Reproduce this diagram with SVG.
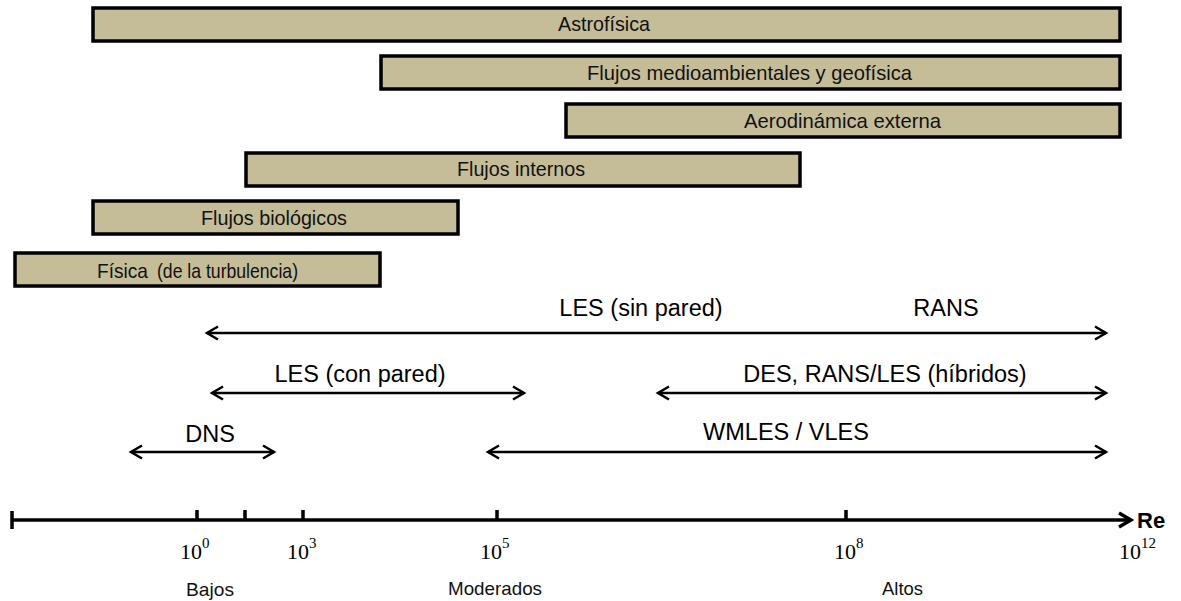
<svg xmlns="http://www.w3.org/2000/svg" width="1181" height="601" viewBox="0 0 1181 601">
<defs>
<style>
.bar{fill:#C4BD97;stroke:#000;stroke-width:3.5}
.bl{font-family:"Liberation Sans",Arial,sans-serif;font-size:21px;fill:#111}
.al{font-family:"Liberation Sans",Arial,sans-serif;font-size:23.5px;fill:#000;text-anchor:middle}
.ar{stroke:#000;stroke-width:2.5;fill:none;marker-start:url(#ah);marker-end:url(#ah)}
.ax{stroke:#000;stroke-width:3.5;fill:none}
.tk{font-family:"Liberation Serif","Times New Roman",serif;font-size:22px;fill:#000}
.sp{font-size:15px}
.cl{font-family:"Liberation Sans",Arial,sans-serif;font-size:19px;fill:#111}
</style>
<marker id="ah" markerUnits="userSpaceOnUse" markerWidth="16" markerHeight="16" viewBox="0 0 16 16" refX="13" refY="8" orient="auto-start-reverse">
<path d="M2,1.5 L13,8 L2,14.5" stroke="#000" stroke-width="2.5" fill="none"/>
</marker>
<marker id="axh" markerUnits="userSpaceOnUse" markerWidth="18" markerHeight="18" viewBox="0 0 18 18" refX="15" refY="9" orient="auto">
<path d="M3,2 L15,9 L3,16" stroke="#000" stroke-width="3.5" fill="none"/>
</marker>
</defs>

<g id="astrofisica">
<rect class="bar" x="93" y="8" width="1027" height="33"/>
<text class="bl" x="558" y="31" textLength="92" lengthAdjust="spacingAndGlyphs">Astrofísica</text>
</g>
<g id="flujos-medioambientales">
<rect class="bar" x="381" y="56" width="739" height="33"/>
<text class="bl" x="587" y="80" textLength="325" lengthAdjust="spacingAndGlyphs">Flujos medioambientales  y geofísica</text>
</g>
<g id="aerodinamica-externa">
<rect class="bar" x="566" y="104" width="554" height="33"/>
<text class="bl" x="744" y="128" textLength="197" lengthAdjust="spacingAndGlyphs">Aerodinámica  externa</text>
</g>
<g id="flujos-internos">
<rect class="bar" x="246" y="153" width="554" height="33"/>
<text class="bl" x="457" y="176" textLength="128" lengthAdjust="spacingAndGlyphs">Flujos internos</text>
</g>
<g id="flujos-biologicos">
<rect class="bar" x="93" y="201" width="365" height="33"/>
<text class="bl" x="201" y="225" textLength="146" lengthAdjust="spacingAndGlyphs">Flujos biológicos</text>
</g>
<g id="fisica-turbulencia">
<rect class="bar" x="15" y="253" width="365" height="33"/>
<text class="bl" x="97" y="278" textLength="51" lengthAdjust="spacingAndGlyphs">Física</text>
<text class="bl" x="157" y="278" font-size="18px" textLength="141" lengthAdjust="spacingAndGlyphs">(de la turbulencia)</text>
</g>

<g id="connectors">
<line class="ar" x1="207" y1="333" x2="1106" y2="333"/>
<line class="ar" x1="212" y1="393" x2="524" y2="393"/>
<line class="ar" x1="658" y1="393" x2="1106" y2="393"/>
<line class="ar" x1="131" y1="452" x2="274" y2="452"/>
<line class="ar" x1="488" y1="452" x2="1106" y2="452"/>
</g>

<g id="method-labels">
<text class="al" x="641" y="316">LES (sin pared)</text>
<text class="al" x="946" y="316">RANS</text>
<text class="al" x="360" y="382">LES (con pared)</text>
<text class="al" x="885" y="382">DES, RANS/LES (híbridos)</text>
<text class="al" x="210" y="442">DNS</text>
<text class="al" x="786" y="440">WMLES / VLES</text>
</g>

<g id="axis">
<line class="ax" x1="12" y1="520" x2="1131" y2="520" marker-end="url(#axh)"/>
<line class="ax" x1="12" y1="511" x2="12" y2="529"/>
<line class="ax" x1="197" y1="510" x2="197" y2="520"/>
<line class="ax" x1="245" y1="510" x2="245" y2="520"/>
<line class="ax" x1="303" y1="510" x2="303" y2="520"/>
<line class="ax" x1="497" y1="510" x2="497" y2="520"/>
<line class="ax" x1="846" y1="510" x2="846" y2="520"/>
<text x="1137" y="528" font-family="Liberation Sans,Arial,sans-serif" font-size="22px" font-weight="bold" fill="#000">Re</text>
<text class="tk" x="180" y="559">10<tspan class="sp" dy="-11">0</tspan></text>
<text class="tk" x="287" y="559">10<tspan class="sp" dy="-11">3</tspan></text>
<text class="tk" x="480" y="559">10<tspan class="sp" dy="-11">5</tspan></text>
<text class="tk" x="834" y="559">10<tspan class="sp" dy="-11">8</tspan></text>
<text class="tk" x="1119" y="559">10<tspan class="sp" dy="-11">12</tspan></text>
<text class="cl" x="186" y="596" textLength="48" lengthAdjust="spacingAndGlyphs">Bajos</text>
<text class="cl" x="448" y="595" textLength="94" lengthAdjust="spacingAndGlyphs">Moderados</text>
<text class="cl" x="882" y="595" textLength="41" lengthAdjust="spacingAndGlyphs">Altos</text>
</g>
</svg>
